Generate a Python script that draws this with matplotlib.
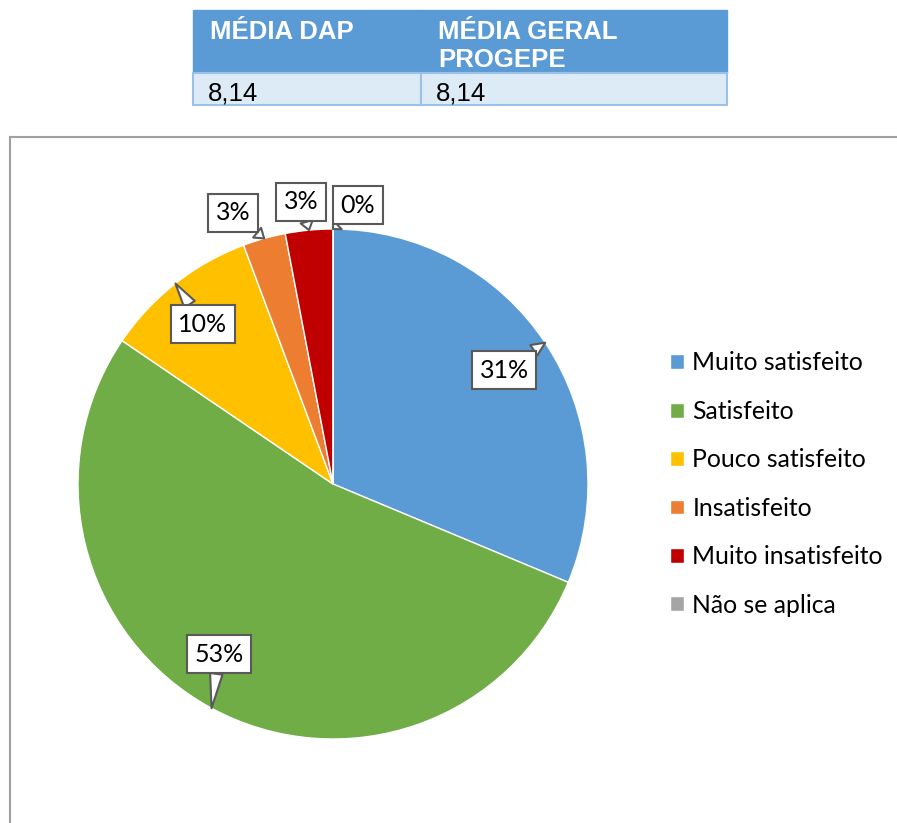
import numpy as np
import matplotlib
matplotlib.use("Agg")
from matplotlib import pyplot as plt
from matplotlib.patches import Rectangle

categories = ["Muito satisfeito", "Satisfeito", "Pouco satisfeito",
              "Insatisfeito", "Muito insatisfeito", "Não se aplica"]
values = [31.3, 53.2, 9.8, 2.7, 3.0, 0.0]
labels = ["31%", "53%", "10%", "3%", "3%", "0%"]
colors = ["#5B9BD5", "#70AD47", "#FFC000", "#ED7D31", "#C00000", "#A5A5A5"]

table_header = ["MÉDIA DAP", "MÉDIA GERAL\nPROGEPE"]
table_values = ["8,14", "8,14"]

# label box centres (data units, pie radius 1)
label_pos = [(0.671, 0.447), (-0.447, -0.667), (-0.51, 0.627),
             (-0.392, 1.063), (-0.125, 1.106), (0.098, 1.094)]

W, H = 897, 823
fig = plt.figure(figsize=(W / 100, H / 100), dpi=100)

# layout layer in pixel coordinates
lay = fig.add_axes([0, 0, 1, 1])
lay.set_xlim(0, W)
lay.set_ylim(H, 0)
lay.axis("off")

# table
tx0, tx1, tsplit = 193, 727, 421
ty0, ty1, ty2 = 10, 73, 105
col_x = [tx0, tsplit]
col_w = [tsplit - tx0, tx1 - tsplit]
for i in range(2):
    lay.add_patch(Rectangle((col_x[i], ty0), col_w[i], ty1 - ty0,
                            fc="#5B9BD5", ec="#5B9BD5", lw=1))
    lay.add_patch(Rectangle((col_x[i], ty1), col_w[i], ty2 - ty1,
                            fc="#DDEBF7", ec="#9BC2E6", lw=1.5))
    lay.text(col_x[i] + 17, ty0 + 10, table_header[i], color="white",
             fontsize=18.5, fontweight="bold", family="Liberation Sans",
             va="top", ha="left", linespacing=1.2)
    lay.text(col_x[i] + 15, (ty1 + ty2) / 2 + 4, table_values[i],
             color="black", fontsize=18.5, family="Liberation Sans",
             va="center", ha="left")

# chart frame
lay.plot([10, W], [137, 137], color="#A0A0A0", lw=1.5)
lay.plot([10, 10], [137, H], color="#A0A0A0", lw=1.5)

# pie
ax = fig.add_axes([78 / W, (H - 739) / H, 510 / W, 510 / H])
wedges, _ = ax.pie(values, colors=colors, startangle=90, counterclock=False,
                   radius=1, wedgeprops=dict(edgecolor="white", linewidth=1))
ax.set_xlim(-1, 1)
ax.set_ylim(-1, 1)

total = sum(values)
start = 90.0
for v, lab, pos in zip(values, labels, label_pos):
    span = 360.0 * v / total
    mid = np.deg2rad(start - span / 2)
    start -= span
    ax.annotate(lab, xy=(np.cos(mid), np.sin(mid)), xytext=pos,
                ha="center", va="center", fontsize=18, family="Lato",
                annotation_clip=False,
                bbox=dict(boxstyle="square,pad=0.3", fc="white",
                          ec="#595959", lw=1.5),
                arrowprops=dict(arrowstyle="wedge,tail_width=0.5,shrink_factor=0.5",
                                fc="white", ec="#595959", lw=1.5,
                                shrinkA=0, shrinkB=0))

ax.legend(wedges, categories, loc="center left",
          bbox_to_anchor=(648 / W, (H - 484) / H),
          bbox_transform=fig.transFigure, frameon=False,
          prop=dict(family="Lato", size=17.8), labelspacing=1.03,
          handlelength=0.55, handleheight=0.55, handletextpad=0.35)

fig.savefig("out.png", dpi=100)
